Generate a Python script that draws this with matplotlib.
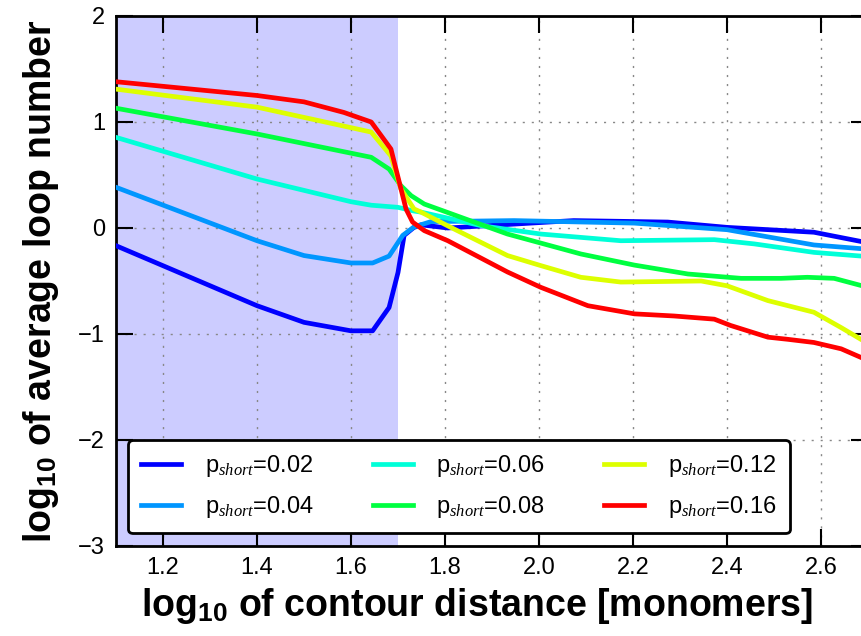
import matplotlib

matplotlib.use("Agg")
import matplotlib.pyplot as plt

plt.rcParams["font.family"] = ["Liberation Sans", "DejaVu Sans"]
plt.rcParams["mathtext.fontset"] = "custom"
plt.rcParams["mathtext.rm"] = "Liberation Sans"
plt.rcParams["mathtext.bf"] = "Liberation Sans:bold"
plt.rcParams["mathtext.it"] = "Liberation Serif:italic"

# p_short values and colours
labels = ["0.02", "0.04", "0.06", "0.08", "0.12", "0.16"]
colors = ["#0000ff", "#0096ff", "#00ffd8", "#00ff40", "#ddff00", "#ff0000"]

# log10 contour distance / log10 average loop number
x_002 = [1.10, 1.40, 1.50, 1.60, 1.646, 1.681, 1.70, 1.713, 1.734, 1.749, 1.806, 2.074, 2.274, 2.40, 2.585, 2.70]
y_002 = [-0.167, -0.733, -0.89, -0.97, -0.97, -0.75, -0.42, -0.07, 0.006, 0.03, 0.0, 0.07, 0.056, 0.006, -0.04, -0.14]

x_004 = [1.10, 1.40, 1.50, 1.60, 1.646, 1.681, 1.71, 1.734, 1.77, 1.947, 2.203, 2.40, 2.585, 2.70]
y_004 = [0.384, -0.12, -0.26, -0.33, -0.33, -0.265, -0.07, 0.01, 0.06, 0.07, 0.046, -0.016, -0.16, -0.20]

x_006 = [1.10, 1.40, 1.60, 1.643, 1.70, 1.734, 1.749, 1.877, 2.004, 2.174, 2.373, 2.458, 2.585, 2.70]
y_006 = [0.855, 0.462, 0.248, 0.215, 0.195, 0.16, 0.15, 0.022, -0.057, -0.12, -0.11, -0.15, -0.23, -0.27]

x_008 = [1.10, 1.40, 1.643, 1.681, 1.706, 1.728, 1.756, 1.862, 1.933, 2.089, 2.203, 2.317, 2.43, 2.515, 2.571, 2.628, 2.70]
y_008 = [1.13, 0.887, 0.667, 0.556, 0.40, 0.305, 0.226, 0.056, -0.057, -0.245, -0.35, -0.434, -0.475, -0.475, -0.465, -0.475, -0.56]

x_012 = [1.10, 1.40, 1.643, 1.685, 1.706, 1.734, 1.749, 1.806, 1.933, 2.004, 2.089, 2.174, 2.345, 2.40, 2.487, 2.585, 2.643, 2.70]
y_012 = [1.31, 1.14, 0.905, 0.68, 0.37, 0.18, 0.15, 0.02, -0.26, -0.355, -0.465, -0.51, -0.50, -0.545, -0.685, -0.795, -0.94, -1.09]

x_016 = [1.10, 1.40, 1.50, 1.585, 1.643, 1.685, 1.717, 1.731, 1.756, 1.806, 1.933, 2.004, 2.033, 2.104, 2.203, 2.287, 2.373, 2.408, 2.487, 2.529, 2.585, 2.643, 2.70]
y_016 = [1.38, 1.25, 1.19, 1.09, 1.00, 0.745, 0.18, 0.056, -0.025, -0.12, -0.415, -0.56, -0.61, -0.733, -0.81, -0.83, -0.86, -0.92, -1.03, -1.05, -1.08, -1.14, -1.25]

xs = [x_002, x_004, x_006, x_008, x_012, x_016]
ys = [y_002, y_004, y_006, y_008, y_012, y_016]

x_ticks = [1.2, 1.4, 1.6, 1.8, 2.0, 2.2, 2.4, 2.6]
y_ticks = [-3, -2, -1, 0, 1, 2]
shade_end = 1.7

fig = plt.figure(figsize=(8.61, 6.36), dpi=100)
# right spine sits just past the image edge, as in the original
ax = fig.add_axes([116 / 861, 1 - 546 / 636, 752 / 861, 530 / 636])

ax.axvspan(1.1, shade_end, color="#ccccff", lw=0, zorder=0)

for x, y, c, lab in zip(xs, ys, colors, labels):
    ax.plot(x, y, color=c, lw=3.4, label=r"p$_{\mathit{short}}$=" + lab, zorder=3)

ax.set_xlim(1.1, 2.7)
ax.set_ylim(-3, 2)
ax.set_xticks(x_ticks)
ax.set_xticklabels(["%.1f" % v for v in x_ticks])
ax.set_yticks(y_ticks)
ax.set_yticklabels([str(v).replace("-", "\u2212") for v in y_ticks])

ax.grid(True, color="#888888", linestyle=(0, (1.5, 5)), lw=1.0)
ax.set_axisbelow(True)
ax.tick_params(direction="in", length=12, width=1.5, top=True, right=True,
               labelsize=17, pad=8)
for s in ax.spines.values():
    s.set_linewidth(2)

ax.set_xlabel(r"log$_{\mathbf{10}}$ of contour distance [monomers]", fontsize=27,
              fontweight="bold")
ax.xaxis.set_label_coords(0.48, -0.075)
ax.set_ylabel(r"log$_{\mathbf{10}}$ of average loop number", fontsize=27,
              fontweight="bold", labelpad=12)

leg = ax.legend(ncol=3, loc="lower left", bbox_to_anchor=(0.016, 0.024),
                fontsize=17, frameon=True, fancybox=True, framealpha=1,
                handlelength=1.7, handletextpad=1.0, columnspacing=2.5,
                borderpad=0.55, labelspacing=0.65, borderaxespad=0)
leg.get_frame().set_edgecolor("black")
leg.get_frame().set_linewidth(2)

fig.savefig("out.png", dpi=100)
plt.close(fig)
